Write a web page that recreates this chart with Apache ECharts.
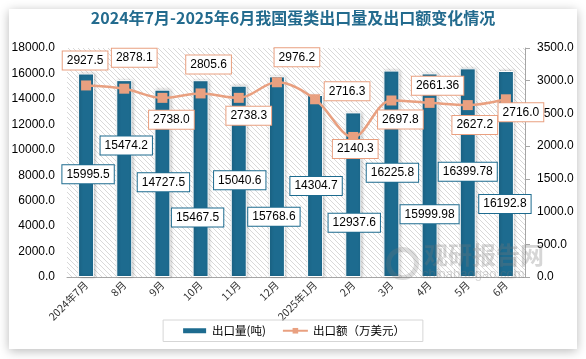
<!DOCTYPE html>
<html>
<head>
<meta charset="utf-8">
<script src="https://cdn.jsdelivr.net/npm/echarts@6/dist/echarts.min.js"></script>
<style>
  html, body { margin:0; padding:0; background:#fff; }
  #card { position:absolute; left:9px; top:9px; width:568px; height:340px; background:#fff;
          box-shadow: 0 2px 10px rgba(0,0,0,0.28); }
  #chart { position:absolute; left:0; top:0; width:586px; height:359px; }
</style>
</head>
<body>
<div id="card"></div>
<div id="chart"></div>
<script>
const categories = ['2024年7月','8月','9月','10月','11月','12月','2025年1月','2月','3月','4月','5月','6月'];
const volume = [15995.5, 15474.2, 14727.5, 15467.5, 15040.6, 15768.6, 14304.7, 12937.6, 16225.8, 15999.98, 16399.78, 16192.8];
const volumeText = ['15995.5','15474.2','14727.5','15467.5','15040.6','15768.6','14304.7','12937.6','16225.8','15999.98','16399.78','16192.8'];
const amount = [2927.5, 2878.1, 2738.0, 2805.6, 2738.3, 2976.2, 2716.3, 2140.3, 2697.8, 2661.36, 2627.2, 2716.0];
const amountText = ['2927.5','2878.1','2738.0','2805.6','2738.3','2976.2','2716.3','2140.3','2697.8','2661.36','2627.2','2716.0'];
const seriesNames = ['出口量(吨)', '出口额（万美元）'];
const titleText = '2024年7月-2025年6月我国蛋类出口量及出口额变化情况';

// label placement (manual offsets as in the reference)
const barLabelOffsets = [[2,-1],[2,-33],[1,-1],[-3,39],[1,-1],[-3,40],[1,0],[1,28],[1,-1],[0,39],[0,-1],[-1,30]];
const lineLabelOffsets = [[-1,-25],[10,-31],[9,22],[8,-29],[10,18],[20,-25],[32,-8],[2,12],[9,19],[8,-17],[7,20],[15,13]];

const hatch = document.createElement('canvas');
hatch.width = 5; hatch.height = 5;
(function(){
  const c = hatch.getContext('2d');
  c.fillStyle = '#ffffff'; c.fillRect(0,0,5,5);
  c.strokeStyle = '#cfcfcf'; c.lineWidth = 0.8;
  c.beginPath(); c.moveTo(-1,-1); c.lineTo(6,6); c.stroke();
  c.beginPath(); c.moveTo(-1,4); c.lineTo(1,6); c.stroke();
  c.beginPath(); c.moveTo(4,-1); c.lineTo(6,1); c.stroke();
})();

const BAR = '#1d6b8f';
const LINE = '#e9a080';
const numFont = 'Liberation Sans, Arial, sans-serif';
const cjkFont = 'Noto Sans CJK SC, sans-serif';

const chart = echarts.init(document.getElementById('chart'), null, {renderer:'canvas'});
chart.setOption({
  backgroundColor: 'transparent',
  animation: false,
  title: {
    text: titleText, left: 'center', top: 10, padding: 0,
    textStyle: { fontFamily: cjkFont, fontSize: 16, fontWeight: 'bold', color: '#236b8e' }
  },
  grid: {
    left: 67, right: 61, top: 48, bottom: 82, show: true, borderWidth: 0,
    backgroundColor: { image: hatch, repeat: 'repeat' }
  },
  legend: {
    top: 320, left: 'center',
    borderColor: '#d6d6d6', borderWidth: 1, padding: [5, 18, 5, 18],
    itemGap: 16, itemWidth: 25, itemHeight: 7,
    textStyle: { fontFamily: cjkFont, fontSize: 11.5, color: '#000' },
    data: [{ name: seriesNames[0], icon: 'rect' }, { name: seriesNames[1] }]
  },
  xAxis: {
    type: 'category', data: categories,
    axisLine: { show: true, lineStyle: { color: '#a6a6a6', width: 1 } },
    axisTick: { show: false },
    axisLabel: { interval: 0, rotate: 45, margin: 6, fontFamily: cjkFont, fontSize: 10.5, color: '#333' }
  },
  yAxis: [{
    type: 'value', min: 0, max: 18000, interval: 2000,
    splitLine: { show: false },
    axisLine: { show: false }, axisTick: { show: false },
    axisLabel: { margin: 12, fontFamily: numFont, fontSize: 12, color: '#000', formatter: v => v.toFixed(1) }
  }, {
    type: 'value', min: 0, max: 3500, interval: 500, position: 'right',
    splitLine: { show: false },
    axisLine: { show: true, lineStyle: { color: '#a6a6a6' } },
    axisTick: { show: true, length: 5, lineStyle: { color: '#a6a6a6' } },
    axisLabel: { margin: 12, fontFamily: numFont, fontSize: 12, color: '#000', formatter: v => v.toFixed(1) }
  }],
  series: [{
    name: seriesNames[0], type: 'bar', yAxisIndex: 0, barWidth: 16,
    itemStyle: { color: BAR, borderColor: '#fff', borderWidth: 1, shadowBlur: 3, shadowColor: 'rgba(0,0,0,0.25)', shadowOffsetX: 1 },
    label: {
      show: true, position: 'inside', color: '#000', fontFamily: numFont, fontSize: 12,
      backgroundColor: '#fff', borderColor: BAR, borderWidth: 1, padding: [3, 4, 3, 4],
      formatter: p => volumeText[p.dataIndex]
    },
    data: volume.map((v, i) => ({ value: v, label: { offset: barLabelOffsets[i] } })),
    z: 2
  }, {
    name: seriesNames[1], type: 'line', yAxisIndex: 1, smooth: 0.35,
    symbol: 'rect', symbolSize: 10,
    lineStyle: { color: LINE, width: 2.5 },
    itemStyle: { color: LINE },
    label: {
      show: true, position: 'inside', color: '#000', fontFamily: numFont, fontSize: 12,
      backgroundColor: '#fff', borderColor: LINE, borderWidth: 1, padding: [3, 4, 3, 4],
      formatter: p => amountText[p.dataIndex]
    },
    data: amount.map((v, i) => ({ value: v, label: { offset: lineLabelOffsets[i] } })),
    z: 3
  }],
  graphic: [
    { type: 'text', left: 424, top: 243, z: 100, silent: true,
      style: { text: '观研报告网', fontFamily: cjkFont, fontWeight: 'bold', fontSize: 24, fill: 'rgba(120,120,120,0.3)' } },
    { type: 'text', left: 422, top: 268, z: 100, silent: true,
      style: { text: 'chinabaogao.com', fontFamily: numFont, fontSize: 13, fill: 'rgba(120,120,120,0.3)' } },
    { type: 'circle', left: 386, top: 247, z: 100, silent: true,
      shape: { r: 14 }, style: { fill: 'none', stroke: 'rgba(120,120,120,0.25)', lineWidth: 5 } }
  ]
});
</script>
</body>
</html>
